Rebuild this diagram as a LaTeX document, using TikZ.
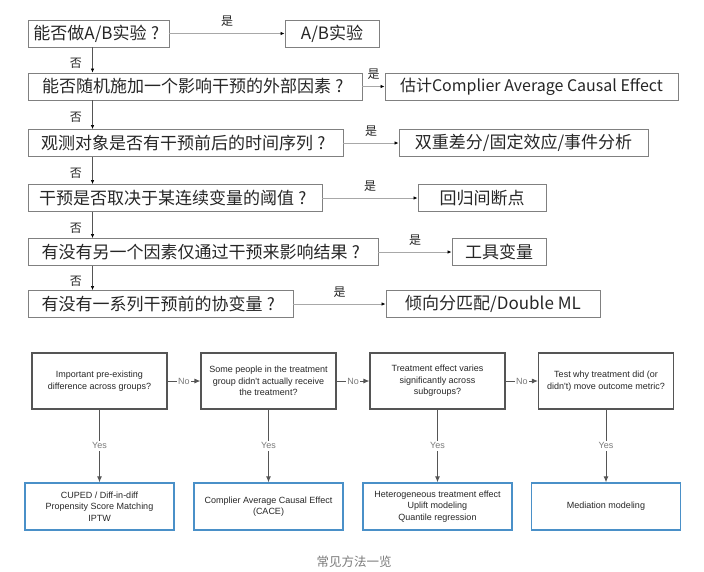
\documentclass[tikz,border=0pt]{standalone}
\usepackage{fontspec}
\setmainfont{Noto Sans CJK SC}
\newfontfamily\enfont{Liberation Sans}
\usetikzlibrary{positioning, calc, arrows.meta}

\definecolor{boxgray}{HTML}{808080}
\definecolor{linegray}{HTML}{A8A8A8}
\definecolor{flowgray}{HTML}{555555}
\definecolor{methodblue}{HTML}{4A90C8}
\definecolor{labelgray}{HTML}{7A7A7A}

\newcommand{\wq}{\makebox[1em]{?}}

\begin{document}
\begin{tikzpicture}[x=1pt, y=-1pt]
        \tikzstyle{question}=[draw=boxgray, line width=0.9pt, minimum height=27pt, inner sep=2pt, text=black!85, font=\fontsize{17}{20}\selectfont];
        \tikzstyle{yesno}=[font=\fontsize{12}{14}\selectfont, text=black!85];
        \tikzstyle{arr}=[-{Latex[length=4pt, width=3.5pt, color=black]}, linegray, line width=0.8pt];
        \tikzstyle{down}=[-{Latex[length=4pt, width=3.5pt, color=black]}, flowgray, line width=0.6pt];
        \tikzstyle{check}=[draw=flowgray, line width=1.1pt, minimum width=135pt, minimum height=56pt, align=center, text=black!85, font=\enfont\fontsize{9}{11.5}\selectfont];
        \tikzstyle{method}=[draw=methodblue, line width=1.4pt, minimum width=149pt, minimum height=47pt, align=center, text=black!85, font=\enfont\fontsize{9}{11.5}\selectfont];
        \tikzstyle{flow}=[-{Latex[length=6pt, width=5pt]}, flowgray, line width=0.9pt];
        \tikzstyle{tag}=[fill=white, inner sep=1.5pt, text=labelgray, font=\enfont\fontsize{9}{11}\selectfont];

        \useasboundingbox (0, 0) rectangle (704, 571);

        \node (0) at (98.5, 33.5) [question, minimum width=141pt] {能否做A/B实验\wq};
        \node (1) at (195, 86.5) [question, minimum width=334pt] {能否随机施加一个影响干预的外部因素\wq};
        \node (2) at (185.5, 143) [question, minimum width=315pt] {观测对象是否有干预前后的时间序列\wq};
        \node (3) at (175, 198) [question, minimum width=294pt] {干预是否取决于某连续变量的阈值\wq};
        \node (4) at (203, 252) [question, minimum width=350pt] {有没有另一个因素仅通过干预来影响结果\wq};
        \node (5) at (160.5, 304) [question, minimum width=265pt] {有没有一系列干预前的协变量\wq};

        \node (6) at (332, 33.5) [question, minimum width=94pt] {A/B实验};
        \node (7) at (531.5, 86.5) [question, minimum width=293pt, font=\fontsize{16}{20}\selectfont] {估计Complier Average Causal Effect};
        \node (8) at (523.5, 143) [question, minimum width=249pt] {双重差分/固定效应/事件分析};
        \node (9) at (482, 198) [question, minimum width=128pt] {回归间断点};
        \node (10) at (499, 252) [question, minimum width=94pt] {工具变量};
        \node (11) at (493, 304) [question, minimum width=214pt] {倾向分匹配/Double ML};

        \draw (0) edge[arr] node[yesno, above=3pt] {是} (6);
        \draw (1) edge[arr] node[yesno, above=3pt] {是} (7);
        \draw (2) edge[arr] node[yesno, above=3pt] {是} (8);
        \draw (3) edge[arr] node[yesno, above=3pt] {是} (9);
        \draw (4) edge[arr] node[yesno, above=3pt] {是} (10);
        \draw (5) edge[arr] node[yesno, above=3pt] {是} (11);

        \draw ($(0.south west)+(65, 0)$) edge[down] node[yesno, left=7pt, yshift=-3pt] {否} ($(1.north west)+(65, 0)$);
        \draw ($(1.south west)+(65, 0)$) edge[down] node[yesno, left=7pt, yshift=-3pt] {否} ($(2.north west)+(65, 0)$);
        \draw ($(2.south west)+(65, 0)$) edge[down] node[yesno, left=7pt, yshift=-3pt] {否} ($(3.north west)+(65, 0)$);
        \draw ($(3.south west)+(65, 0)$) edge[down] node[yesno, left=7pt, yshift=-3pt] {否} ($(4.north west)+(65, 0)$);
        \draw ($(4.south west)+(65, 0)$) edge[down] node[yesno, left=7pt, yshift=-3pt] {否} ($(5.north west)+(65, 0)$);

        \node (12) at (99.5, 381) [check] {Important pre-existing\\difference across groups?};
        \node (13) at (268.5, 381) [check] {Some people in the treatment\\group didn't actually receive\\the treatment?};
        \node (14) at (437.5, 381) [check] {Treatment effect varies\\significantly across\\subgroups?};
        \node (15) at (606, 381) [check] {Test why treatment did (or\\didn't) move outcome metric?};

        \node (16) at (99.5, 506.5) [method] {CUPED / Diff-in-diff\\Propensity Score Matching\\IPTW};
        \node (17) at (268.5, 506.5) [method] {Complier Average Causal Effect\\(CACE)};
        \node (18) at (437.5, 506.5) [method] {Heterogeneous treatment effect\\Uplift modeling\\Quantile regression};
        \node (19) at (606, 506.5) [method] {Mediation modeling};

        \draw (12) edge[flow] node[tag] {No} (13);
        \draw (13) edge[flow] node[tag] {No} (14);
        \draw (14) edge[flow] node[tag] {No} (15);

        \draw (12) edge[flow] node[tag] {Yes} (16);
        \draw (13) edge[flow] node[tag] {Yes} (17);
        \draw (14) edge[flow] node[tag] {Yes} (18);
        \draw (15) edge[flow] node[tag] {Yes} (19);

        \node (20) at (354, 562) [text=labelgray, font=\fontsize{12.5}{14}\selectfont] {常见方法一览};

    \end{tikzpicture}
\end{document}
